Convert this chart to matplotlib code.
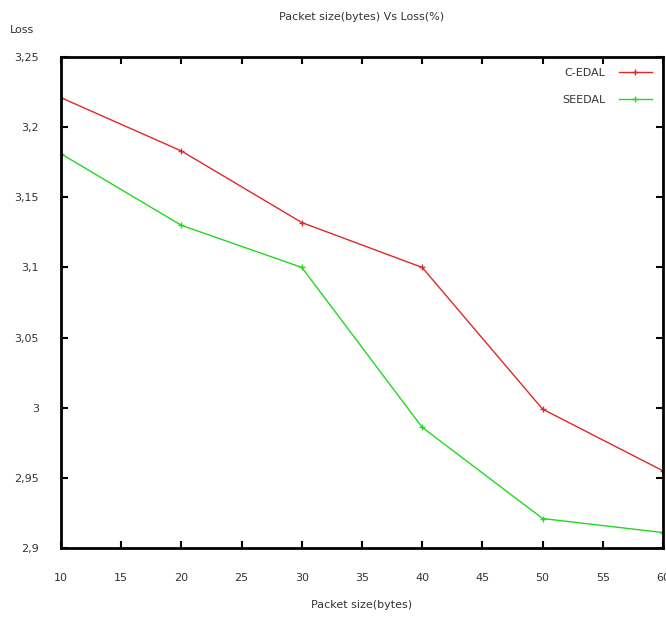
import numpy as np
import matplotlib
matplotlib.use('Agg')
import matplotlib.pyplot as plt

packet_size = [10, 20, 30, 40, 50, 60]
loss_cedal = [3.221, 3.183, 3.132, 3.100, 2.999, 2.955]
loss_seedal = [3.181, 3.130, 3.100, 2.986, 2.921, 2.911]

xticks = [10, 15, 20, 25, 30, 35, 40, 45, 50, 55, 60]
yticks = [2.9, 2.95, 3.0, 3.05, 3.1, 3.15, 3.2, 3.25]
ylabels = ['2,9', '2,95', '3', '3,05', '3,1', '3,15', '3,2', '3,25']

txt = '#333333'
fs = 8

fig = plt.figure(figsize=(6.66, 6.2), dpi=100)
ax = fig.add_axes([61/666, 72/620, 602/666, 491/620])

ax.plot(packet_size, loss_cedal, color='#e02828', lw=1.0, marker='+', ms=4, mew=1, label='C-EDAL')
ax.plot(packet_size, loss_seedal, color='#22d822', lw=1.0, marker='+', ms=4, mew=1, label='SEEDAL')

ax.set_xlim(10, 60)
ax.set_ylim(2.9, 3.25)
ax.set_xticks(xticks)
ax.set_xticklabels([str(v) for v in xticks])
ax.set_yticks(yticks)
ax.set_yticklabels(ylabels)

ax.tick_params(direction='in', length=5, width=1.5, top=True, right=True,
               labelsize=fs, labelcolor=txt, pad=16)
ax.tick_params(axis='x', pad=18)
for s in ax.spines.values():
    s.set_linewidth(2)

ax.set_title('Packet size(bytes) Vs Loss(%)', fontsize=fs, color=txt, pad=27)
ax.set_xlabel('Packet size(bytes)', fontsize=fs, color=txt, labelpad=12)
fig.text(10/666, 1 - 30/620, 'Loss', fontsize=fs, color=txt, va='center')

leg = ax.legend(loc='upper right', frameon=False, fontsize=fs, markerfirst=False,
                handlelength=3, labelcolor=txt, borderaxespad=0.6, handletextpad=1.2,
                labelspacing=1.5)

fig.savefig('out.png', dpi=100)
